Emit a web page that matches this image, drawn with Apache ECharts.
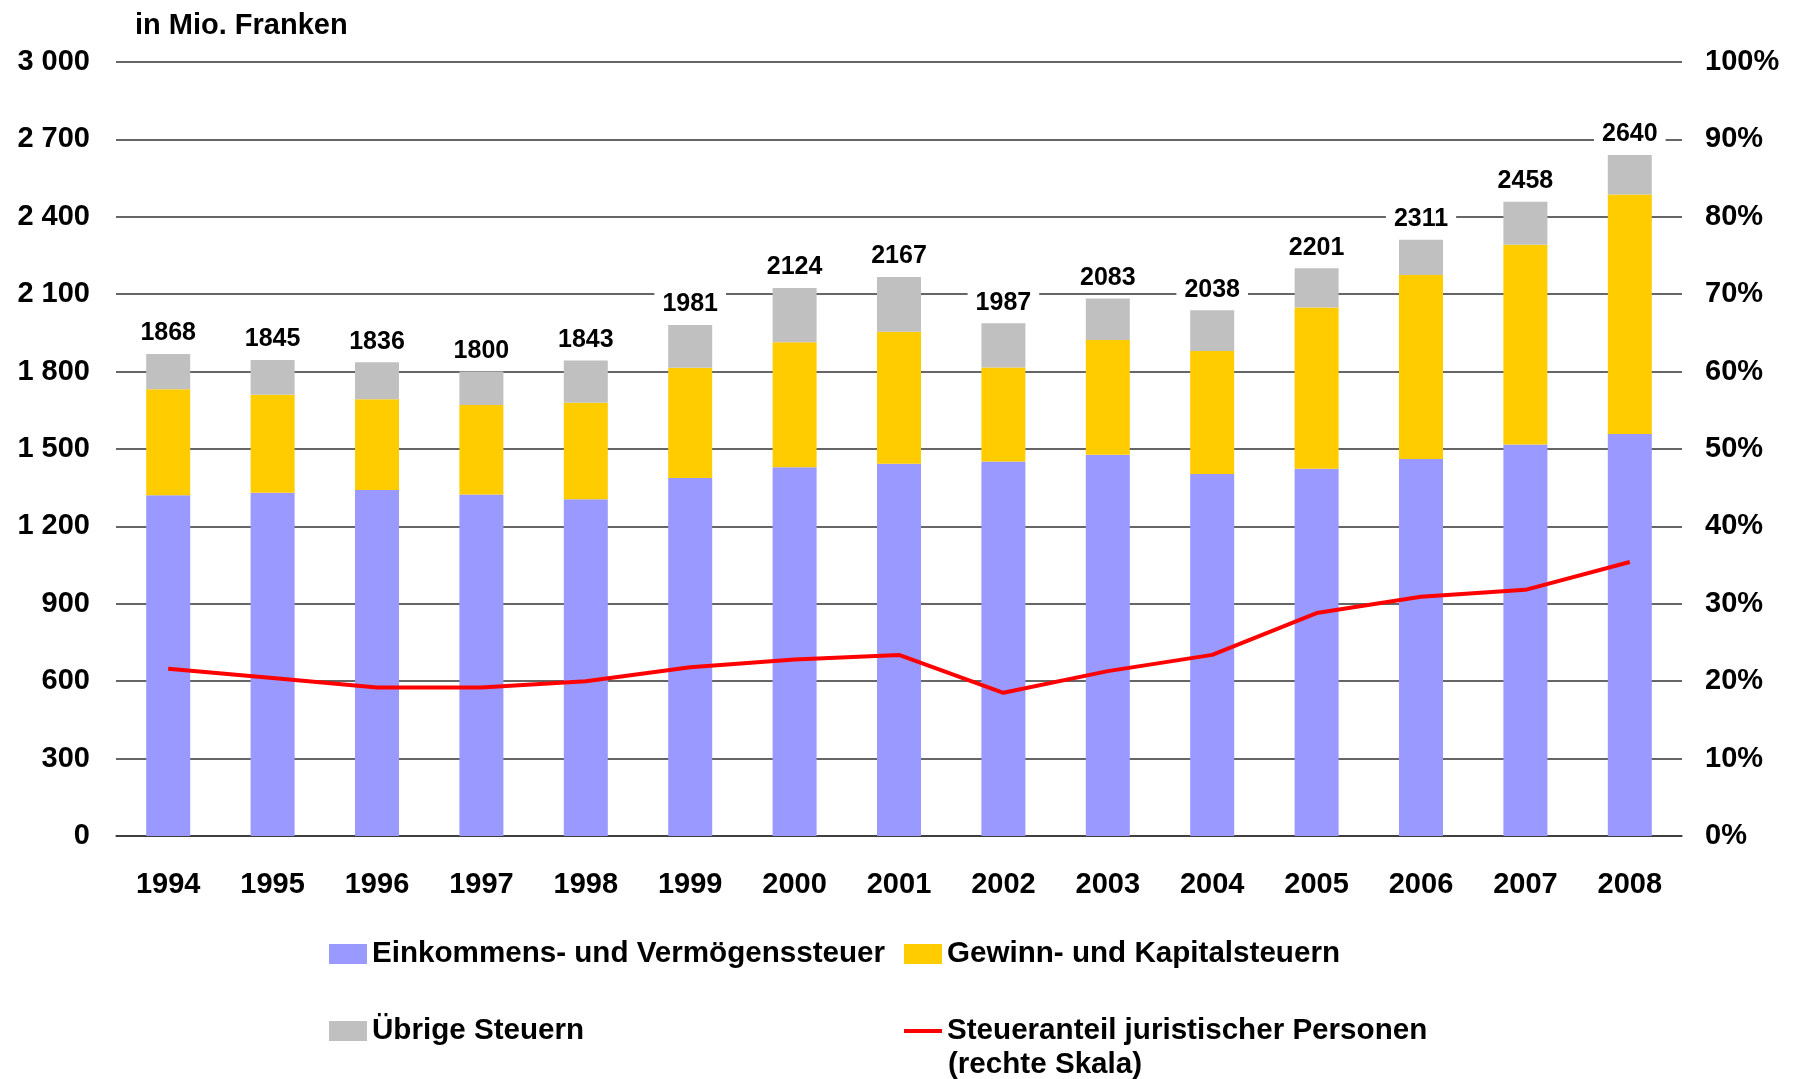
<!DOCTYPE html>
<html>
<head>
<meta charset="utf-8">
<script src="https://cdn.jsdelivr.net/npm/echarts@6/dist/echarts.min.js"></script>
<style>
html,body{margin:0;padding:0;background:#fff;}
#chart{width:1798px;height:1079px;}
</style>
</head>
<body>
<div id="chart"></div>
<script>
const years = ['1994','1995','1996','1997','1998','1999','2000','2001','2002','2003','2004','2005','2006','2007','2008'];
const einkommen = [1321,1330,1341,1324,1305,1388,1429,1443,1452,1478,1403,1423,1461,1517,1558];
const gewinn = [411,380,352,347,374,427,485,511,364,444,477,625,713,775,928];
const uebrige = [136,135,143,129,164,166,210,213,171,161,158,153,137,166,154];
const totals = [1868,1845,1836,1800,1843,1981,2124,2167,1987,2083,2038,2201,2311,2458,2640];
const anteil = [21.6,20.4,19.2,19.2,20.0,21.8,22.8,23.4,18.5,21.3,23.4,28.8,30.9,31.8,35.4];

const FONT = '"Liberation Sans", Arial, sans-serif';
const names = ['Einkommens- und Vermögenssteuer','Gewinn- und Kapitalsteuern','Übrige Steuern','Steueranteil juristischer Personen'];
const gridColor = '#333333';

const chart = echarts.init(document.getElementById('chart'), null, {renderer:'canvas'});
const legendText = {color:'#000', fontFamily:FONT, fontWeight:'bold', fontSize:29.6};
chart.setOption({
  backgroundColor:'#fff',
  animation:false,
  title:{text:'in Mio. Franken', left:130, top:6,
    textStyle:{color:'#000', fontFamily:FONT, fontWeight:'bold', fontSize:29}},
  grid:{left:116, right:116, top:62, bottom:243, containLabel:false},
  legend:[
    {data:[names[0]], left:329, top:939, icon:'rect', itemWidth:38, itemHeight:20, padding:0, textStyle:legendText},
    {data:[names[1]], left:904, top:939, icon:'rect', itemWidth:38, itemHeight:20, padding:0, textStyle:legendText},
    {data:[names[2]], left:329, top:1016, icon:'rect', itemWidth:38, itemHeight:20, padding:0, textStyle:legendText},
    {data:[names[3]], left:904, top:1016, icon:'rect', itemWidth:38, itemHeight:4, padding:0, textStyle:legendText}
  ],
  graphic:[
    {type:'text', left:948, top:1050,
      style:{text:'(rechte Skala)', fill:'#000', font:'bold 29.6px ' + FONT}}
  ],
  xAxis:{type:'category', data:years,
    axisLine:{show:true, lineStyle:{color:gridColor, width:1.5}},
    axisTick:{show:false},
    axisLabel:{color:'#000', fontFamily:FONT, fontWeight:'bold', fontSize:29, margin:34}},
  yAxis:[
    {type:'value', min:0, max:3000, interval:300,
      axisLine:{show:false}, axisTick:{show:false},
      splitLine:{show:true, lineStyle:{color:gridColor, width:1.5}},
      axisLabel:{color:'#000', fontFamily:FONT, fontWeight:'bold', fontSize:29, margin:26, padding:[6,0,0,0],
        formatter: v => String(v).replace(/\B(?=(\d{3})+(?!\d))/g,' ')}},
    {type:'value', min:0, max:100, interval:10, position:'right',
      axisLine:{show:false}, axisTick:{show:false}, splitLine:{show:false},
      axisLabel:{color:'#000', fontFamily:FONT, fontWeight:'bold', fontSize:29, margin:23, padding:[6,0,0,0],
        formatter:'{value}%'}}
  ],
  series:[
    {name:names[0], type:'bar', stack:'s', data:einkommen, barWidth:44,
      itemStyle:{color:'#9999FF'}},
    {name:names[1], type:'bar', stack:'s', data:gewinn, barWidth:44,
      itemStyle:{color:'#FFCC00'}},
    {name:names[2], type:'bar', stack:'s', data:uebrige, barWidth:44,
      itemStyle:{color:'#C0C0C0'},
      label:{show:true, position:'top', distance:8,
        formatter: p => String(totals[p.dataIndex]),
        color:'#000', fontFamily:FONT, fontWeight:'bold', fontSize:25,
        backgroundColor:'#fff', padding:[0,8]}},
    {name:names[3], type:'line', yAxisIndex:1, data:anteil, symbol:'none',
      lineStyle:{color:'#FF0000', width:4}, itemStyle:{color:'#FF0000'}, z:5}
  ]
});
</script>
</body>
</html>
